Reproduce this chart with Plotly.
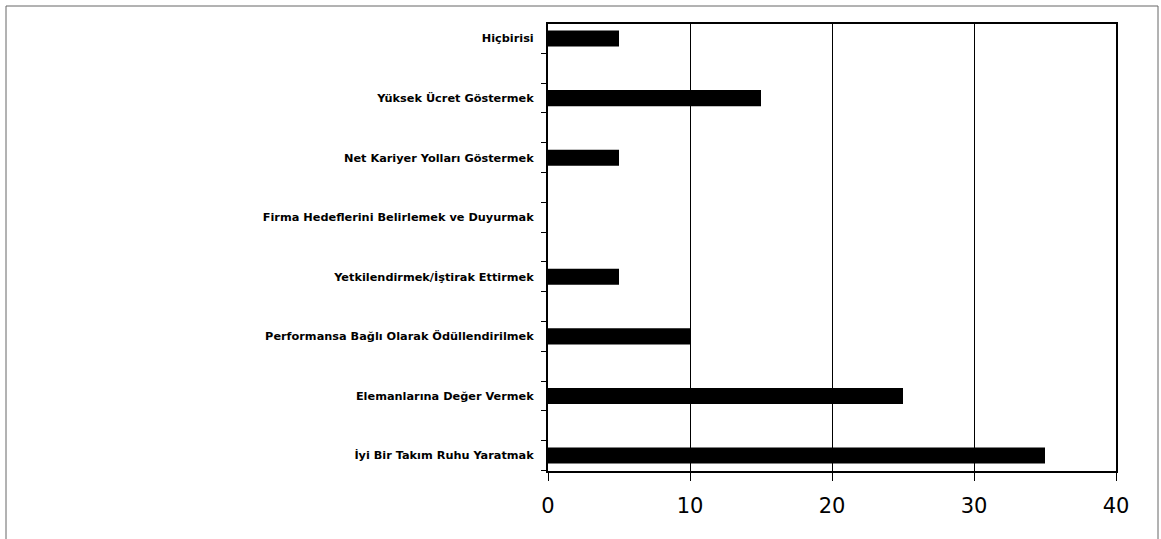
import plotly.graph_objects as go

categories = [
    "Hiçbirisi",
    "Yüksek Ücret Göstermek",
    "Net Kariyer Yolları Göstermek",
    "Firma Hedeflerini Belirlemek ve Duyurmak",
    "Yetkilendirmek/İştirak Ettirmek",
    "Performansa Bağlı Olarak Ödüllendirilmek",
    "Elemanlarına Değer Vermek",
    "İyi Bir Takım Ruhu Yaratmak",
]
values = [5, 15, 5, 0, 5, 10, 25, 35]
x_ticks = [0, 10, 20, 30, 40]

n = len(categories)
positions = [n - 1 - i for i in range(n)]  # top category highest

fig = go.Figure()
fig.add_trace(go.Bar(
    x=values,
    y=positions,
    orientation="h",
    width=0.27,
    marker=dict(color="black", line=dict(width=0)),
    hoverinfo="x+text",
    text=categories,
    textposition="none",
))

fig.update_layout(
    width=1161,
    height=539,
    margin=dict(l=548, r=45, t=24, b=68),
    paper_bgcolor="white",
    plot_bgcolor="white",
    showlegend=False,
    font=dict(family="Liberation Sans, Arial, sans-serif", color="black"),
    xaxis=dict(
        range=[0, 40],
        tickvals=x_ticks,
        ticktext=[str(v) for v in x_ticks],
        tickfont=dict(size=21, family="DejaVu Sans, sans-serif"),
        ticks="outside",
        ticklen=8,
        tickcolor="black",
        ticklabelstandoff=7,
        showgrid=True,
        gridcolor="black",
        gridwidth=1,
        showline=True,
        linecolor="black",
        linewidth=2,
        mirror=True,
        zeroline=False,
    ),
    yaxis=dict(
        range=[-0.26, n - 1 + 0.244],
        tickvals=positions,
        ticktext=categories,
        tickfont=dict(size=11.3, family="DejaVu Sans, sans-serif", weight="bold"),
        ticks="",
        ticklabelstandoff=10,
        minor=dict(
            tick0=0.25,
            dtick=0.5,
            ticks="outside",
            ticklen=5,
            tickcolor="black",
            showgrid=False,
        ),
        showgrid=False,
        showline=True,
        linecolor="black",
        linewidth=2,
        mirror=True,
        zeroline=False,
    ),
    shapes=[
        dict(
            type="rect",
            xref="paper", yref="paper",
            x0=(6 - 548) / 568, x1=(1158 - 548) / 568,
            y0=(471 - 545) / 447, y1=(471 - 6) / 447,
            line=dict(color="#666666", width=1),
            fillcolor="rgba(0,0,0,0)",
            layer="below",
        )
    ],
)

fig.write_html("out.html")
